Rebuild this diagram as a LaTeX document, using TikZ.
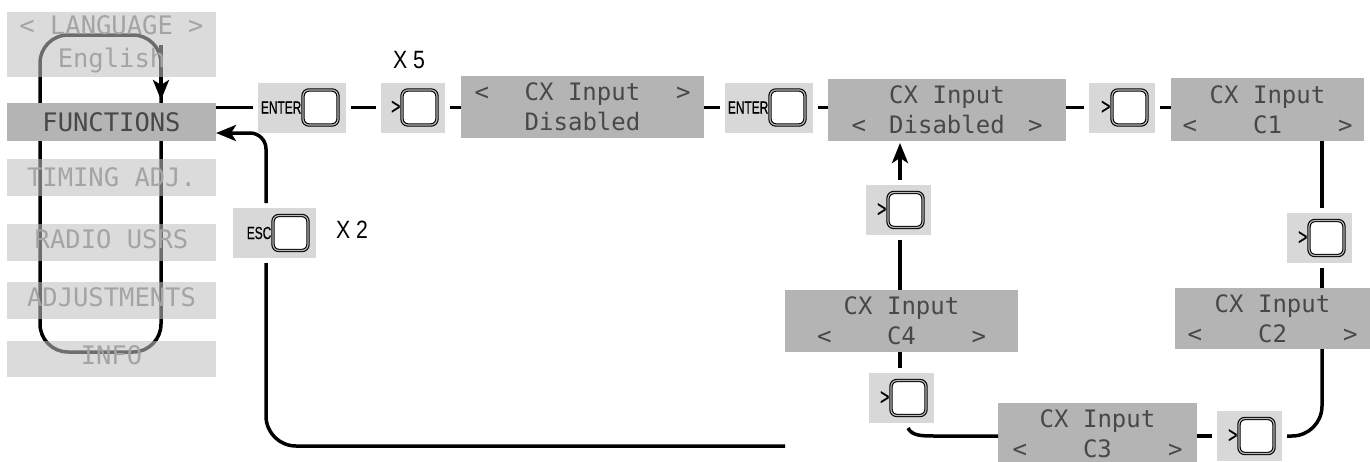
\documentclass[tikz,border=0pt]{standalone}
\usepackage{fontspec}
\usetikzlibrary{arrows.meta,calc,backgrounds}
\newfontfamily\lcdfont{DejaVu Sans Mono}
\newfontfamily\keyfont[FakeStretch=0.68,FakeBold=0.6]{Liberation Sans}
\newfontfamily\xfont[FakeStretch=0.85]{Liberation Sans}
\definecolor{lcdgray}{HTML}{B4B4B4}
\definecolor{keygray}{HTML}{D8D8D8}
\definecolor{menulight}{HTML}{C1C1C1}
\definecolor{lcdtext}{HTML}{484848}
\definecolor{menutext}{HTML}{A4A4A4}
\newcommand\lcdtwo[7]{\makebox[#1]{#2\hfill#3\hfill#4}\\\makebox[#1]{#5\hfill#6\hfill#7}}
\newcommand\keyat[5]{%
  \node[keybox, minimum width=#4] (#1) at (#2,#3) {};
  \node[btn, anchor=east] (#1b) at ($(#1.east)+(-13,0)$) {};
  \node[keylbl, anchor=east] (#1l) at (#1b.west) {#5};
}
\newcommand\gtkey{{\fontsize{23}{23}\selectfont >}}
\begin{document}
\begin{tikzpicture}[x=1pt,y=-1pt,
  conn/.style={line width=3.5pt, draw=black},
  lcdbox/.style={fill=lcdgray, inner sep=0pt, outer sep=0pt, text=lcdtext, align=center, font=\lcdfont\fontsize{24}{30}\selectfont},
  keybox/.style={fill=keygray, inner sep=0pt, outer sep=5pt, minimum height=50pt},
  btn/.style={draw=black, line width=1.1pt, double=gray!55, double distance=1.2pt, fill=white, rounded corners=6pt, minimum width=35pt, minimum height=35pt, inner sep=0pt, outer sep=0pt},
  keylbl/.style={font=\keyfont\fontsize{17.5}{17.5}\selectfont, inner sep=1.5pt},
  menuon/.style={fill=lcdgray, minimum width=209pt, inner sep=0pt, outer sep=0pt, text=lcdtext, font=\lcdfont\fontsize{25.5}{33}\selectfont, align=center},
  menuoff/.style={menuon, fill=menulight, fill opacity=0.57, text opacity=1, text=menutext},
  tip/.style={-{Stealth[length=20pt,width=16pt,inset=5pt]}},
  xlbl/.style={font=\xfont\fontsize{25}{25}\selectfont, inner sep=0pt}
]
\useasboundingbox (0,0) rectangle (1370,461);

% menu
\node[menuoff, minimum height=65pt] (mLang) at (111.5,44.5) {< LANGUAGE >\\English};
\node[menuon, minimum height=38pt] (mFun) at (111.5,122) {FUNCTIONS};
\node[menuoff, minimum height=37pt] (mTim) at (111.5,177.5) {TIMING ADJ.};
\node[menuoff, minimum height=37pt, text depth=6pt] (mRad) at (111.5,242.5) {RADIO USRS};
\node[menuoff, minimum height=37pt, text depth=6pt] (mAdj) at (111.5,300.5) {ADJUSTMENTS};
\node[menuoff, minimum height=36pt, text depth=7pt] (mInf) at (111.5,359) {INFO};

% keys
\keyat{kEa}{302}{107.5}{88pt}{ENTER}
\keyat{kNa}{413}{107.5}{64pt}{\gtkey}
\keyat{kEb}{769}{107.5}{88pt}{ENTER}
\keyat{kNb}{1122}{107.5}{66pt}{\gtkey}
\keyat{kNc}{1319.5}{238}{65pt}{\gtkey}
\keyat{kNd}{1249.5}{436}{65pt}{\gtkey}
\keyat{kNe}{898.5}{210}{65pt}{\gtkey}
\keyat{kNf}{901.5}{398}{65pt}{\gtkey}
\keyat{kEsc}{274.5}{233}{83pt}{ESC}

% lcd boxes
\node[lcdbox, minimum width=243pt, minimum height=62pt] (Ma) at (582.5,107) {\lcdtwo{216pt}{<}{CX Input}{>}{}{Disabled}{}};
\node[lcdbox, minimum width=238pt, minimum height=62pt] (Mb) at (947,110) {\lcdtwo{191pt}{}{CX Input}{}{<}{Disabled}{>}};
\node[lcdbox, minimum width=193pt, minimum height=63pt] (Ca) at (1267.5,109.5) {\lcdtwo{170pt}{}{CX Input}{}{<}{C1}{>}};
\node[lcdbox, minimum width=195pt, minimum height=61pt] (Cb) at (1272.5,318.5) {\lcdtwo{170pt}{}{CX Input}{}{<}{C2}{>}};
\node[lcdbox, minimum width=199pt, minimum height=62pt] (Cc) at (1097.5,434) {\lcdtwo{170pt}{}{CX Input}{}{<}{C3}{>}};
\node[lcdbox, minimum width=233pt, minimum height=62pt] (Cd) at (901.5,321) {\lcdtwo{169pt}{}{CX Input}{}{<}{C4}{>}};

% labels
\node[xlbl] (x5) at (409,60) {X 5};
\node[xlbl] (x2) at (352,230) {X 2};

% helper coordinates
\coordinate (colL) at (900,0);
\coordinate (colR) at (1322,0);
\coordinate (cLb) at (908,0);
\coordinate (retX) at (266,0);
\coordinate (loopR) at (161,0);
\coordinate (retEnd) at (785,446);

\begin{scope}[on background layer]
  \fill[white] (0,0) rectangle (1370,461);
  \draw[conn, rounded corners=28pt] (40,35) rectangle (161,352);
  \draw[conn, tip, shorten >=3pt] (loopR |- mLang.center) -- (loopR |- mFun.north);
\end{scope}

% top row
\draw[conn] (mFun.east |- kEa.west) -- (kEa.west);
\draw[conn] (kEa.east) -- (kNa.west);
\draw[conn] (kNa.east) -- (Ma.west |- kNa.east);
\draw[conn] (Ma.east |- kEb.west) -- (kEb.west);
\draw[conn] (kEb.east) -- (Mb.west |- kEb.east);
\draw[conn] (Mb.east |- kNb.west) -- (kNb.west);
\draw[conn] (kNb.east) -- (Ca.west |- kNb.east);

% right column
\draw[conn] (Ca.south -| colR) -- (kNc.north -| colR);
\draw[conn] (kNc.south -| colR) -- (Cb.north -| colR);
\draw[conn, rounded corners=30pt] (Cb.south -| colR) |- (kNd.east);
\draw[conn] (Cc.east |- kNd.west) -- (kNd.west);

% left column
\draw[conn, tip, shorten >=2pt] (kNe.north -| colL) -- (Mb.south -| colL);
\draw[conn] (kNe.south -| colL) -- (Cd.north -| colL);
\draw[conn] (Cd.south -| colL) -- (kNf.north -| colL);
\draw[conn] (kNf.south -| cLb) .. controls +(4,8) and +(-14,0) .. ($(Cc.west |- kNd.west)+(-62,0)$) -- (Cc.west |- kNd.west);

% return path
\draw[conn, rounded corners=30pt] (retEnd) -| (kEsc.south -| retX);
\draw[conn, rounded corners=16pt, tip] (kEsc.north -| retX) |- ($(mFun.east)+(0,11)$);
\end{tikzpicture}
\end{document}
